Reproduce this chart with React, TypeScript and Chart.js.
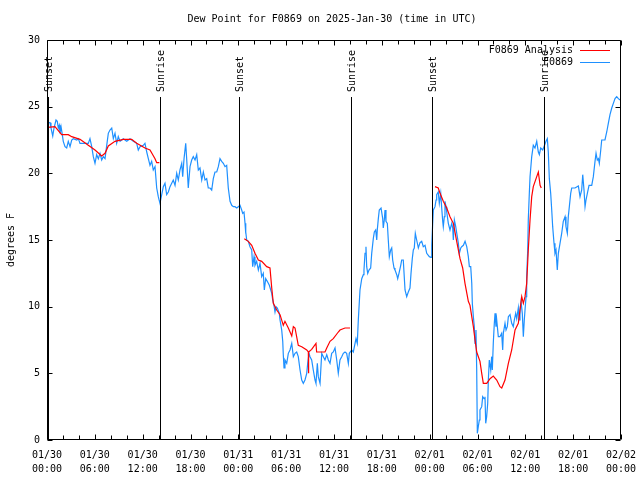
import React, { useEffect, useRef } from "react";
import { Chart, registerables } from "chart.js";

Chart.register(...registerables);

const TITLE = "Dew Point for F0869 on 2025-Jan-30 (time in UTC)";
const Y_TITLE = "degrees F";
const LEGEND_ANALYSIS = "F0869 Analysis";
const LEGEND_OBS = "F0869";

// hours since 01/30 00:00 UTC
const X_MIN = 0;
const X_MAX = 72;
const tickDates = ["01/30", "01/30", "01/30", "01/30", "01/31", "01/31", "01/31", "01/31", "02/01", "02/01", "02/01", "02/01", "02/02"];
const tickTimes = ["00:00", "06:00", "12:00", "18:00", "00:00", "06:00", "12:00", "18:00", "00:00", "06:00", "12:00", "18:00", "00:00"];
const yTickValues = [0, 5, 10, 15, 20, 25, 30];

const eventHours = [0.15, 14.17, 24.03, 38.13, 48.23, 62.28];
const eventNames = ["Sunset", "Sunrise", "Sunset", "Sunrise", "Sunset", "Sunrise"];

// F0869 Analysis: [hour, dew point]
const analysisSeries: [number, number | null][] = [
  [0.1, 23.45], [1.0, 23.5], [1.84, 22.9], [2.67, 22.9], [3.1, 22.75], [4.14, 22.55], [5.18, 22.1],
  [6.02, 21.75], [6.86, 21.3], [7.28, 21.5], [7.69, 22.05], [8.53, 22.4], [9.57, 22.55], [10.62, 22.55],
  [11.25, 22.25], [12.29, 21.9], [12.92, 21.75], [13.55, 21.1], [13.76, 20.8], [14.09, 20.8],
  [19.0, null],
  [24.75, 15.1], [25.25, 14.9], [25.68, 14.6], [26.09, 14.0], [26.51, 13.5], [26.93, 13.4], [27.56, 13.0],
  [27.97, 12.9], [28.19, 11.4], [28.39, 10.25], [28.81, 9.75], [29.23, 9.4], [29.64, 8.6], [29.85, 8.9],
  [30.27, 8.4], [30.7, 7.8], [30.9, 8.5], [31.11, 8.4], [31.52, 7.1], [31.95, 7.0], [32.58, 6.75],
  [32.78, 6.6], [32.8, 5.0], [32.83, 6.6], [33.2, 6.8], [33.74, 7.25], [33.82, 6.6], [34.87, 6.6],
  [35.09, 6.9], [35.5, 7.4], [35.91, 7.6], [36.54, 8.1], [36.75, 8.25], [37.38, 8.4], [38.01, 8.4],
  [43.0, null],
  [48.67, 19.0], [49.08, 18.9], [49.3, 18.5], [49.71, 17.9], [50.14, 17.4], [50.55, 16.75], [50.97, 16.25],
  [51.39, 14.9], [51.81, 13.6], [52.14, 12.9], [52.43, 11.75], [52.85, 10.4], [53.06, 10.1], [53.28, 9.25],
  [53.48, 8.5], [53.69, 7.5], [53.9, 6.6], [54.31, 5.9], [54.53, 5.0], [54.73, 4.25], [55.16, 4.25],
  [55.57, 4.6], [55.98, 4.8], [56.41, 4.5], [56.82, 4.0], [57.04, 3.9], [57.45, 4.5], [57.87, 5.75],
  [58.29, 6.75], [58.71, 8.25], [59.12, 8.75], [59.55, 10.75], [59.75, 10.25], [59.96, 10.75], [60.17, 11.75],
  [60.37, 14.25], [60.59, 16.5], [60.8, 18.25], [61.0, 19.0], [61.43, 19.75], [61.63, 20.1], [61.85, 19.1],
  [62.0, 18.9],
];

// F0869 observations: [hour, dew point]
const observedSeries: [number, number][] = [
  [0.16, 23.8], [0.38, 23.8], [0.5, 23.4], [0.72, 22.8], [0.88, 23.4], [1.13, 24.0], [1.29, 23.9], [1.42, 23.4],
  [1.54, 23.6], [1.63, 23.0], [1.76, 23.5], [1.92, 22.9], [2.04, 22.4], [2.26, 22.0], [2.47, 21.9], [2.67, 22.4],
  [2.89, 22.0], [3.1, 22.5], [3.3, 22.6], [3.73, 22.5], [3.93, 22.6], [4.14, 22.25], [4.55, 22.25], [5.18, 22.25],
  [5.39, 22.6], [5.61, 22.0], [5.81, 21.25], [6.02, 20.75], [6.23, 21.4], [6.44, 21.1], [6.65, 21.5], [6.86, 21.0],
  [7.06, 21.25], [7.28, 21.1], [7.49, 22.1], [7.69, 23.0], [7.9, 23.25], [8.12, 23.4], [8.32, 22.6], [8.53, 23.0],
  [8.74, 22.25], [8.94, 22.75], [9.16, 22.4], [9.57, 22.6], [10.0, 22.4], [10.41, 22.6], [10.83, 22.4], [11.25, 22.25],
  [11.45, 21.75], [11.67, 22.0], [12.08, 22.1], [12.29, 22.25], [12.51, 21.6], [12.71, 21.1], [12.92, 20.6], [13.13, 20.9],
  [13.33, 20.25], [13.55, 20.5], [13.67, 20.5], [13.76, 18.9], [13.96, 18.25], [14.17, 17.75], [14.39, 18.4], [14.59, 19.0],
  [14.8, 19.25], [15.01, 18.4], [15.22, 18.6], [15.43, 19.0], [15.84, 19.5], [16.06, 19.1], [16.27, 20.0], [16.47, 19.5],
  [16.68, 20.25], [16.9, 20.75], [17.02, 19.75], [17.19, 21.1], [17.4, 22.25], [17.52, 21.1], [17.72, 18.9], [17.94, 20.5],
  [18.15, 21.0], [18.35, 21.25], [18.57, 21.0], [18.78, 21.4], [18.98, 20.25], [19.19, 20.4], [19.41, 19.5], [19.61, 20.1],
  [19.82, 19.5], [20.03, 19.6], [20.23, 18.9], [20.45, 18.9], [20.66, 18.75], [20.86, 19.6], [21.07, 20.1], [21.29, 20.1],
  [21.49, 20.5], [21.7, 21.1], [21.91, 20.9], [22.12, 20.75], [22.33, 20.5], [22.54, 20.6], [22.74, 18.9], [22.96, 17.9],
  [23.17, 17.6], [23.37, 17.5], [23.58, 17.5], [23.8, 17.4], [24.0, 17.5], [24.21, 17.6], [24.42, 17.25], [24.55, 17.0],
  [24.71, 17.1], [24.84, 16.25], [24.9, 15.5], [24.96, 15.6], [25.05, 15.0], [25.25, 14.9], [25.46, 14.5], [25.68, 14.25],
  [25.8, 13.0], [25.97, 13.75], [26.09, 13.1], [26.3, 13.4], [26.51, 12.75], [26.72, 13.25], [26.93, 12.25], [27.13, 12.5],
  [27.26, 11.25], [27.43, 12.1], [27.63, 11.9], [27.89, 11.6], [28.19, 11.0], [28.31, 10.5], [28.47, 10.1], [28.6, 9.6],
  [28.73, 10.0], [28.89, 9.9], [29.14, 9.5], [29.23, 9.0], [29.44, 8.25], [29.57, 7.4], [29.64, 6.4], [29.73, 5.4],
  [29.85, 6.0], [30.07, 5.75], [30.27, 6.5], [30.48, 6.75], [30.7, 7.25], [30.9, 6.25], [31.11, 6.5], [31.32, 6.6],
  [31.52, 6.25], [31.74, 5.25], [31.95, 4.5], [32.15, 4.25], [32.36, 4.5], [32.58, 5.0], [32.7, 5.75], [32.87, 6.5],
  [32.99, 6.25], [33.2, 6.0], [33.4, 5.25], [33.62, 4.5], [33.74, 4.25], [33.91, 5.75], [34.03, 4.75], [34.25, 4.25],
  [34.46, 6.5], [34.66, 6.25], [34.87, 6.0], [35.09, 6.4], [35.29, 6.0], [35.5, 5.75], [35.71, 6.5], [35.91, 6.6],
  [36.13, 6.9], [36.34, 6.0], [36.54, 5.0], [36.75, 6.0], [36.97, 6.25], [37.17, 6.5], [37.38, 6.6], [37.59, 6.5],
  [37.8, 5.75], [37.92, 6.5], [38.22, 6.75], [38.42, 6.6], [38.64, 7.25], [38.76, 7.6], [38.92, 7.25], [39.05, 9.0],
  [39.26, 11.25], [39.48, 12.1], [39.68, 12.4], [39.76, 12.75], [39.89, 14.0], [40.01, 14.5], [40.1, 13.0], [40.23, 12.5],
  [40.39, 12.75], [40.6, 12.9], [40.73, 14.0], [40.93, 15.1], [41.06, 15.6], [41.23, 15.75], [41.36, 15.0], [41.43, 15.75],
  [41.56, 16.6], [41.68, 17.25], [41.9, 17.4], [42.11, 16.6], [42.18, 15.9], [42.31, 16.5], [42.4, 17.25], [42.52, 16.4],
  [42.69, 16.25], [42.81, 15.0], [42.94, 13.75], [43.11, 14.25], [43.24, 14.4], [43.36, 13.5], [43.53, 12.9], [43.65, 12.75],
  [43.87, 12.4], [43.99, 12.1], [44.15, 12.5], [44.37, 13.1], [44.49, 13.5], [44.69, 13.5], [44.91, 11.25], [45.12, 10.75],
  [45.32, 11.1], [45.53, 11.4], [45.66, 12.5], [45.82, 13.6], [45.95, 14.25], [46.07, 14.4], [46.2, 15.5], [46.37, 15.0],
  [46.58, 14.4], [46.79, 14.8], [47.0, 14.9], [47.2, 14.5], [47.42, 14.6], [47.63, 14.0], [47.96, 13.75], [48.17, 13.7],
  [48.26, 14.6], [48.38, 16.25], [48.46, 17.25], [48.67, 17.5], [48.8, 18.0], [48.88, 18.4], [49.08, 18.6], [49.21, 17.75],
  [49.39, 18.5], [49.51, 17.4], [49.64, 16.4], [49.71, 16.0], [49.84, 16.75], [49.92, 17.9], [50.05, 17.5], [50.14, 17.1],
  [50.34, 16.25], [50.55, 15.75], [50.77, 16.25], [50.89, 15.9], [50.97, 15.0], [51.1, 16.5], [51.27, 16.0], [51.4, 15.5],
  [51.6, 14.75], [51.72, 14.0], [51.9, 14.4], [52.02, 14.5], [52.23, 14.6], [52.44, 14.9], [52.65, 14.5], [52.85, 13.75],
  [52.98, 13.0], [53.15, 13.0], [53.28, 11.75], [53.35, 10.25], [53.48, 9.25], [53.6, 8.5], [53.69, 7.25], [53.81, 8.25],
  [53.9, 5.25], [53.98, 0.5], [54.1, 1.0], [54.23, 1.5], [54.31, 2.25], [54.53, 2.5], [54.65, 3.25], [54.82, 3.1],
  [54.94, 3.25], [55.03, 1.25], [55.15, 1.75], [55.28, 2.75], [55.36, 4.5], [55.48, 6.0], [55.66, 5.25], [55.78, 6.25],
  [55.86, 5.25], [55.98, 7.25], [56.11, 8.75], [56.2, 9.5], [56.32, 8.5], [56.41, 9.0], [56.53, 8.25], [56.61, 7.75],
  [56.82, 7.75], [57.03, 8.0], [57.16, 6.75], [57.24, 8.0], [57.45, 8.75], [57.58, 8.25], [57.74, 8.5], [57.87, 9.25],
  [58.08, 9.4], [58.29, 8.75], [58.49, 8.5], [58.62, 9.0], [58.79, 9.5], [58.92, 9.1], [59.12, 9.9], [59.21, 9.0],
  [59.33, 9.75], [59.46, 10.4], [59.62, 9.5], [59.75, 7.75], [59.87, 9.0], [59.96, 9.75], [60.09, 10.75], [60.17, 12.25],
  [60.3, 14.25], [60.37, 16.5], [60.5, 18.5], [60.59, 19.75], [60.8, 21.25], [61.0, 22.1], [61.21, 21.9], [61.43, 22.4],
  [61.63, 21.6], [61.76, 21.4], [61.93, 21.9], [62.18, 21.75], [62.34, 22.0], [62.59, 22.4], [62.76, 22.6], [62.88, 21.6],
  [63.01, 19.6], [63.18, 18.5], [63.31, 17.25], [63.43, 16.0], [63.6, 14.75], [63.72, 14.0], [63.85, 14.25], [64.01, 12.75],
  [64.14, 14.0], [64.35, 14.75], [64.56, 15.5], [64.76, 16.4], [64.98, 16.75], [65.1, 16.0], [65.27, 15.5], [65.39, 16.75],
  [65.52, 17.5], [65.69, 18.5], [65.82, 18.9], [66.23, 18.9], [66.65, 19.05], [66.86, 18.25], [67.07, 18.75], [67.2, 19.9],
  [67.36, 18.75], [67.49, 17.5], [67.61, 18.0], [67.78, 18.5], [67.99, 19.1], [68.33, 19.1], [68.53, 19.75], [68.74, 20.9],
  [68.87, 21.5], [69.03, 21.0], [69.16, 21.1], [69.28, 20.75], [69.46, 21.75], [69.58, 22.5], [69.99, 22.5], [70.21, 23.1],
  [70.41, 23.75], [70.62, 24.4], [70.84, 24.9], [71.04, 25.25], [71.25, 25.6], [71.46, 25.75], [71.67, 25.6], [71.88, 25.5],
];

const RED = "#ff0000";
const BLUE = "#1e90ff";
const FONT = '"DejaVu Sans Mono", "Liberation Mono", monospace';

const decorPlugin = {
  id: "decor",
  afterDatasetsDraw(chart: any) {
    const { ctx, chartArea, scales } = chart;
    const xs = scales.x;
    ctx.save();
    ctx.font = `10px ${FONT}`;
    ctx.fillStyle = "#000";
    ctx.strokeStyle = "#000";
    ctx.lineWidth = 1;
    const labelBottom = chartArea.top + 52;
    eventHours.forEach((h, i) => {
      const px = Math.round(xs.getPixelForValue(h)) + 0.5;
      ctx.beginPath();
      ctx.moveTo(px, labelBottom + 5);
      ctx.lineTo(px, chartArea.bottom);
      ctx.stroke();
      ctx.save();
      ctx.translate(px + 1, labelBottom);
      ctx.rotate(-Math.PI / 2);
      ctx.textAlign = "left";
      ctx.textBaseline = "middle";
      ctx.fillText(eventNames[i], 0, 0);
      ctx.restore();
    });
    ctx.restore();
  },
  afterDraw(chart: any) {
    const { ctx, chartArea, scales } = chart;
    const xs = scales.x;
    const ys = scales.y;
    const L = chartArea.left + 0.5;
    const R = chartArea.right - 0.5;
    const T = chartArea.top + 0.5;
    const B = chartArea.bottom - 0.5;
    ctx.save();
    ctx.strokeStyle = "#000";
    ctx.lineWidth = 1;
    ctx.beginPath();
    ctx.rect(L, T, R - L, B - T);
    ctx.stroke();
    // x ticks (every 2 h) on bottom and top, inward
    for (let h = X_MIN; h <= X_MAX; h += 2) {
      const px = Math.round(xs.getPixelForValue(h)) + 0.5;
      const len = h % 6 === 0 ? 5 : 4;
      ctx.beginPath();
      ctx.moveTo(px, B);
      ctx.lineTo(px, B - len);
      ctx.moveTo(px, T);
      ctx.lineTo(px, T + len);
      ctx.stroke();
    }
    // y ticks left and right, inward
    yTickValues.forEach((v) => {
      const py = Math.round(ys.getPixelForValue(v)) + 0.5;
      ctx.beginPath();
      ctx.moveTo(L, py);
      ctx.lineTo(L + 5, py);
      ctx.moveTo(R, py);
      ctx.lineTo(R - 5, py);
      ctx.stroke();
    });
    // title
    ctx.fillStyle = "#000";
    ctx.font = `10px ${FONT}`;
    ctx.textAlign = "center";
    ctx.textBaseline = "middle";
    ctx.fillText(TITLE, (chartArea.left + chartArea.right) / 2 - 2, 19);
    // y title
    ctx.save();
    ctx.translate(11, (chartArea.top + chartArea.bottom) / 2);
    ctx.rotate(-Math.PI / 2);
    ctx.textAlign = "center";
    ctx.textBaseline = "middle";
    ctx.fillText(Y_TITLE, 0, 0);
    ctx.restore();
    // legend
    const textRight = chartArea.right - 48;
    const items: [string, string][] = [
      [LEGEND_ANALYSIS, RED],
      [LEGEND_OBS, BLUE],
    ];
    items.forEach(([label, color], i) => {
      const y = chartArea.top + 10 + i * 12;
      ctx.textAlign = "right";
      ctx.textBaseline = "middle";
      ctx.fillStyle = "#000";
      ctx.fillText(label, textRight, y);
      ctx.strokeStyle = color;
      ctx.lineWidth = 1;
      ctx.beginPath();
      ctx.moveTo(textRight + 7, Math.round(y) + 0.5);
      ctx.lineTo(textRight + 37, Math.round(y) + 0.5);
      ctx.stroke();
    });
    ctx.restore();
  },
};

export default function App() {
  const canvasRef = useRef<HTMLCanvasElement | null>(null);

  useEffect(() => {
    if (!canvasRef.current) return;
    const chart = new Chart(canvasRef.current, {
      type: "line",
      data: {
        datasets: [
          {
            label: LEGEND_ANALYSIS,
            data: analysisSeries.map(([x, y]) => ({ x, y })),
            borderColor: RED,
            backgroundColor: RED,
            borderWidth: 1.2,
            pointRadius: 0,
            spanGaps: false,
            tension: 0,
          },
          {
            label: LEGEND_OBS,
            data: observedSeries.map(([x, y]) => ({ x, y })),
            borderColor: BLUE,
            backgroundColor: BLUE,
            borderWidth: 1.2,
            pointRadius: 0,
            tension: 0,
          },
        ],
      },
      options: {
        animation: false,
        responsive: false,
        devicePixelRatio: 1,
        layout: { padding: { top: 40, right: 19, left: 0, bottom: 0 } },
        plugins: {
          legend: { display: false },
          title: { display: false },
          tooltip: { enabled: false },
        },
        scales: {
          x: {
            type: "linear",
            min: X_MIN,
            max: X_MAX,
            grid: { display: false, drawTicks: false },
            border: { display: false },
            ticks: {
              stepSize: 6,
              autoSkip: false,
              maxRotation: 0,
              color: "#000",
              padding: 8,
              font: { family: FONT, size: 10, lineHeight: 1.4 },
              callback: (v: any) => {
                const i = Math.round(Number(v) / 6);
                return [tickDates[i], tickTimes[i]];
              },
            },
            afterFit: (s: any) => {
              s.height = 40;
              s.paddingLeft = 0;
              s.paddingRight = 0;
            },
          },
          y: {
            min: 0,
            max: 30,
            grid: { display: false, drawTicks: false },
            border: { display: false },
            ticks: {
              stepSize: 5,
              color: "#000",
              padding: 7,
              font: { family: FONT, size: 10 },
            },
            afterFit: (s: any) => {
              s.width = 47;
              s.paddingTop = 0;
              s.paddingBottom = 0;
            },
          },
        },
      },
      plugins: [decorPlugin],
    });
    return () => chart.destroy();
  }, []);

  return (
    <div style={{ position: "absolute", left: 0, top: 0, width: 640, height: 480, background: "#fff" }}>
      <canvas ref={canvasRef} width={640} height={480} style={{ display: "block" }} />
    </div>
  );
}
